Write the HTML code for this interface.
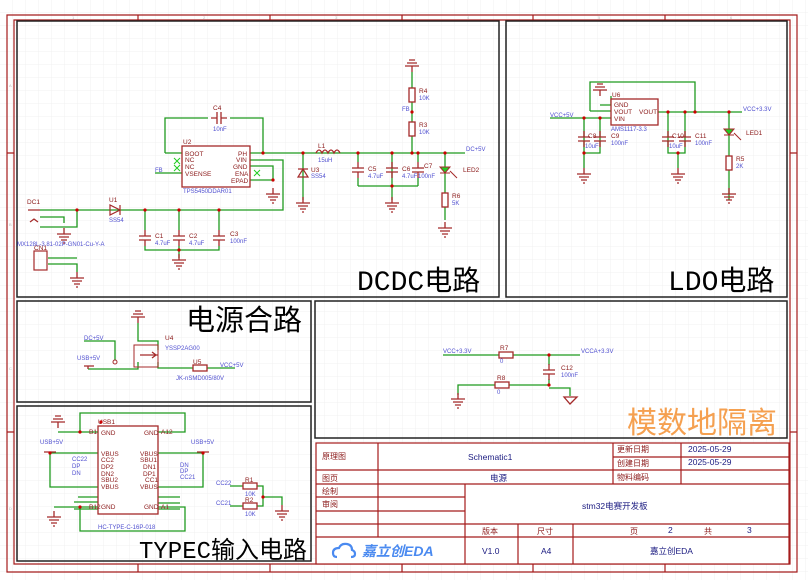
<!DOCTYPE html>
<html><head><meta charset="utf-8"><style>
body{margin:0;background:#fff}
svg{display:block}
text{font-family:"Liberation Sans","Noto Sans CJK SC",sans-serif}
.l{font-size:6px;fill:#5050d0}
.p{font-size:6.5px;fill:#8b1a1a}
.w{stroke:#1f9a1f;stroke-width:1.3;fill:none}
.c{stroke:#a52a2a;stroke-width:1.3;fill:none}
.b{stroke:#222;stroke-width:1.5;fill:none}
.r{stroke:#a51c1c;stroke-width:1.2;fill:none}
.t{font-size:8px;fill:#8b1a1a}
.v{font-size:8.5px;fill:#1a1a80}
.big{font-family:"Liberation Mono","Noto Sans CJK SC",monospace;fill:#000}
</style></head><body>
<svg width="808" height="580" viewBox="0 0 808 580" xmlns="http://www.w3.org/2000/svg">
<defs>
<pattern id="g" width="13" height="13" patternUnits="userSpaceOnUse"><path d="M13 0V13H0" fill="none" stroke="#f0f0f0" stroke-width="1"/></pattern>
<g id="gnd"><path d="M0 0V6M-7 6H7M-5 9H5M-3 12H3M-1 15H1" stroke="#a52a2a" stroke-width="1.3" fill="none"/></g>
<g id="gndu"><path d="M0 0V-6M-7 -6H7M-5 -9H5M-3 -12H3" stroke="#a52a2a" stroke-width="1.3" fill="none"/></g>
<g id="capv"><path d="M-6 -2H6M-6 2H6M0 -2V-8M0 2V8" stroke="#a52a2a" stroke-width="1.3" fill="none"/></g>
<g id="resv"><rect x="-3" y="-7" width="6" height="14" fill="#fff" stroke="#a52a2a" stroke-width="1.3"/></g>
<g id="resh"><rect x="-7" y="-3" width="14" height="6" fill="#fff" stroke="#a52a2a" stroke-width="1.3"/></g>
<g id="led"><path d="M-5 -3H5L0 3Z" fill="#22cc22" stroke="#a52a2a" stroke-width="1"/><path d="M-5 3H5M5 1L10 6M8 4L12 8" stroke="#a52a2a" stroke-width="1" fill="none"/></g>
</defs>
<rect width="808" height="580" fill="url(#g)"/>
<path class="r" d="M7 15H797V572H7Z"/>
<path class="r" d="M14 20H790V564H14Z"/>
<path class="r" d="M138 15V20M270 15V20M402 15V20M533 15V20M665 15V20M7 153H14M790 153H797M7 432H14M790 432H797M138 564V572M270 564V572M402 564V572M533 564V572M665 564V572"/>
<g font-size="4" fill="#bbb"><text x="72" y="19">1</text><text x="203" y="19">2</text><text x="335" y="19">3</text><text x="467" y="19">4</text><text x="598" y="19">5</text><text x="730" y="19">6</text><text x="9" y="87">A</text><text x="9" y="226">B</text><text x="9" y="370">C</text><text x="9" y="510">D</text></g>
<rect class="b" x="17" y="21" width="482" height="276"/>
<rect class="b" x="506" y="21" width="281" height="276"/>
<rect class="b" x="17" y="301" width="294" height="101"/>
<rect class="b" x="17" y="406" width="294" height="155"/>
<rect class="b" x="315" y="301" width="472" height="137"/>

<!-- DCDC -->
<path class="w" d="M165 153V118H208M230 118H263V153M182 153H165M250 153H465M250 160H283V210H40M250 166H273V180M250 180H273M155 173H182M303 153V200M392 153V200M358 186H418M412 72V153M445 153V220M40 227H77V210M48 258H77M48 264H77V272M40 217H64V223M64 217V222"/>
<use href="#capv" x="219" y="118" transform="rotate(90 219 118)"/>
<rect x="182" y="146" width="68" height="41" fill="#fff" stroke="#a52a2a" stroke-width="1.3"/>
<g class="p"><text x="185" y="156">BOOT</text><text x="185" y="162">NC</text><text x="185" y="169">NC</text><text x="185" y="176">VSENSE</text><text x="238" y="156">PH</text><text x="236" y="162">VIN</text><text x="233" y="169">GND</text><text x="235" y="176">ENA</text><text x="231" y="183">EPAD</text></g>
<text class="p" x="183" y="144">U2</text><text class="l" x="183" y="193">TPS5450DDAR01</text>
<text class="p" x="213" y="110">C4</text><text class="l" x="213" y="131">10nF</text>
<text class="l" x="155" y="172">FB</text>
<path d="M174 158l6 6M180 158l-6 6M174 165l6 6M180 165l-6 6M254 170l6 6M260 170l-6 6" stroke="#22cc22" stroke-width="1"/>
<use href="#gnd" x="273" y="188"/>
<path d="M298 177H308L303 169Z M298 169H308" fill="none" stroke="#a52a2a" stroke-width="1.2"/>
<text class="p" x="311" y="172">U3</text><text class="l" x="311" y="178">SS54</text>
<use href="#gnd" x="303" y="197"/>
<path class="c" d="M316 153q3 -6 6 0q3 -6 6 0q3 -6 6 0q3 -6 6 0"/>
<text class="p" x="318" y="148">L1</text><text class="l" x="318" y="162">15uH</text>
<use href="#capv" x="358" y="170"/><use href="#capv" x="392" y="170"/><use href="#capv" x="418" y="170"/>
<path class="w" d="M358 153V162M358 178V186M418 153V162M418 178V186"/>
<text class="p" x="368" y="171">C5</text><text class="l" x="368" y="178">4.7uF</text>
<text class="p" x="402" y="171">C6</text><text class="l" x="402" y="178">4.7uF</text>
<text class="p" x="424" y="168">C7</text><text class="l" x="418" y="178">100nF</text>
<use href="#gnd" x="392" y="197"/>
<use href="#gndu" x="412" y="72"/>
<use href="#resv" x="412" y="95"/><use href="#resv" x="412" y="129"/>
<text class="p" x="419" y="93">R4</text><text class="l" x="419" y="100">10K</text>
<text class="p" x="419" y="127">R3</text><text class="l" x="419" y="134">10K</text>
<text class="l" x="402" y="111">FB</text>
<text class="l" x="466" y="151">DC+5V</text>
<use href="#led" x="445" y="170"/><text class="p" x="463" y="172">LED2</text>
<use href="#resv" x="445" y="200"/><text class="p" x="452" y="198">R6</text><text class="l" x="452" y="205">5K</text>
<use href="#gnd" x="445" y="222"/>
<path d="M110 205V215L120 210Z M120 205V215" fill="none" stroke="#a52a2a" stroke-width="1.2"/>
<text class="p" x="109" y="202">U1</text><text class="l" x="109" y="222">SS54</text>
<use href="#capv" x="145" y="238"/><use href="#capv" x="179" y="238"/><use href="#capv" x="219" y="238"/>
<path class="w" d="M145 210V230M145 246V250H219V246M219 210V230M179 210V230M179 246V258"/>
<text class="p" x="155" y="238">C1</text><text class="l" x="155" y="245">4.7uF</text>
<text class="p" x="189" y="238">C2</text><text class="l" x="189" y="245">4.7uF</text>
<text class="p" x="230" y="236">C3</text><text class="l" x="230" y="243">100nF</text>
<use href="#gnd" x="179" y="254"/><use href="#gnd" x="64" y="228"/><use href="#gnd" x="77" y="272"/>
<path class="c" d="M28 210H40M30 222l4 -3l4 3"/><text class="p" x="27" y="204">DC1</text>
<text class="l" x="17" y="246">MX128L-3.81-02P-GN01-Cu-Y-A</text>
<rect x="34" y="251" width="13" height="19" fill="none" stroke="#a52a2a" stroke-width="1.2"/><text class="p" x="34" y="250">CN1</text>
<g fill="#c00"><circle cx="77" cy="210" r="1.6"/><circle cx="145" cy="210" r="1.6"/><circle cx="179" cy="210" r="1.6"/><circle cx="219" cy="210" r="1.6"/><circle cx="263" cy="153" r="1.6"/><circle cx="303" cy="153" r="1.6"/><circle cx="358" cy="153" r="1.6"/><circle cx="392" cy="153" r="1.6"/><circle cx="412" cy="153" r="1.6"/><circle cx="418" cy="153" r="1.6"/><circle cx="445" cy="153" r="1.6"/><circle cx="392" cy="186" r="1.6"/><circle cx="412" cy="112" r="1.6"/><circle cx="273" cy="180" r="1.6"/><circle cx="179" cy="250" r="1.6"/></g>
<text class="big" x="357" y="290" font-size="28">DCDC电路</text>

<!-- LDO -->
<path class="w" d="M590 111V82H695V112M590 111H611M600 105H611V96M550 118H611M658 112H742M584 118V153H600V118M668 112V153H685V112M678 153V168M584 153V168M729 112V200"/>
<use href="#gndu" x="600" y="96"/>
<rect x="611" y="99" width="47" height="26" fill="#fff" stroke="#a52a2a" stroke-width="1.3"/>
<g class="p"><text x="614" y="107">GND</text><text x="614" y="114">VOUT</text><text x="614" y="121">VIN</text><text x="639" y="114">VOUT</text></g>
<text class="p" x="612" y="97">U6</text><text class="l" x="611" y="131">AMS1117-3.3</text>
<use href="#capv" x="584" y="139"/><use href="#capv" x="600" y="139"/><use href="#capv" x="668" y="139"/><use href="#capv" x="685" y="139"/>
<text class="p" x="588" y="138">C8</text><text class="l" x="585" y="148">10uF</text>
<text class="p" x="611" y="138">C9</text><text class="l" x="611" y="145">100nF</text>
<text class="p" x="672" y="138">C10</text><text class="l" x="669" y="148">10uF</text>
<text class="p" x="695" y="138">C11</text><text class="l" x="695" y="145">100nF</text>
<use href="#gnd" x="584" y="168"/><use href="#gnd" x="678" y="168"/>
<use href="#led" x="729" y="132"/><text class="p" x="746" y="135">LED1</text>
<use href="#resv" x="729" y="163"/><text class="p" x="736" y="161">R5</text><text class="l" x="736" y="168">2K</text>
<use href="#gnd" x="729" y="188"/>
<text class="l" x="550" y="117">VCC+5V</text><text class="l" x="743" y="111">VCC+3.3V</text>
<g fill="#c00"><circle cx="584" cy="118" r="1.6"/><circle cx="600" cy="118" r="1.6"/><circle cx="668" cy="112" r="1.6"/><circle cx="685" cy="112" r="1.6"/><circle cx="695" cy="112" r="1.6"/><circle cx="729" cy="112" r="1.6"/><circle cx="584" cy="153" r="1.6"/><circle cx="678" cy="153" r="1.6"/></g>
<text class="big" x="668" y="290" font-size="28">LDO电路</text>

<!-- 电源合路 -->
<text class="big" x="186" y="330" font-size="29">电源合路</text>
<use href="#gndu" x="138" y="323"/>
<path class="w" d="M138 323V341H158V350M84 341H115V362M88 369H138V362M158 362V368H235"/>
<rect x="134" y="345" width="24" height="22" fill="none" stroke="#a52a2a" stroke-width="1"/>
<path class="c" d="M140 355H158M152 352l4 3l-4 3"/>
<circle cx="115" cy="362" r="2" fill="#fff" stroke="#a52a2a"/>
<use href="#resh" x="200" y="368"/>
<text class="p" x="165" y="340">U4</text><text class="l" x="165" y="350">YSSP2AG00</text>
<text class="p" x="193" y="364">U5</text><text class="l" x="176" y="380">JK-nSMD005/80V</text>
<text class="l" x="84" y="340">DC+5V</text><text class="l" x="77" y="360">USB+5V</text><text class="l" x="220" y="367">VCC+5V</text>
<path class="c" d="M84 366H94M88 366V369"/>

<!-- TYPEC -->
<path class="w" d="M58 432H98M80 432V413H185V432H158M50 453V487H98M50 453H98M203 453V487H158M158 453H203M78 497H98M74 502H98M74 509H98M158 497H180M158 503H180M158 509H180M80 507H98M80 507V531H185V507H158M54 507H98M230 486H243M230 506H243M257 486H263V506H257M263 497H282V505"/>
<use href="#gndu" x="58" y="428"/><use href="#gnd" x="54" y="511"/><use href="#gnd" x="282" y="505"/>
<rect x="98" y="426" width="60" height="88" fill="#fff" stroke="#a52a2a" stroke-width="1.3"/>
<g class="p"><text x="101" y="435">GND</text><text x="101" y="456">VBUS</text><text x="101" y="462">CC2</text><text x="101" y="469">DP2</text><text x="101" y="476">DN2</text><text x="101" y="482">SBU2</text><text x="101" y="489">VBUS</text><text x="101" y="509">GND</text>
<text x="144" y="435">GND</text><text x="140" y="456">VBUS</text><text x="140" y="462">SBU1</text><text x="143" y="469">DN1</text><text x="143" y="476">DP1</text><text x="145" y="482">CC1</text><text x="140" y="489">VBUS</text><text x="144" y="509">GND</text>
<text x="89" y="434">B1</text><text x="161" y="434">A12</text><text x="89" y="509">B12</text><text x="161" y="509">A1</text></g>
<text class="p" x="98" y="424">USB1</text><text class="l" x="98" y="529">HC-TYPE-C-16P-018</text>
<text class="l" x="72" y="461">CC22</text><text class="l" x="72" y="468">DP</text><text class="l" x="72" y="475">DN</text>
<text class="l" x="180" y="467">DN</text><text class="l" x="180" y="473">DP</text><text class="l" x="180" y="479">CC21</text>
<text class="l" x="40" y="444">USB+5V</text><text class="l" x="191" y="444">USB+5V</text>
<path class="c" d="M44 452H56M50 452V453M197 452H209M203 452V453"/>
<use href="#resh" x="250" y="486"/><use href="#resh" x="250" y="506"/>
<text class="p" x="245" y="482">R1</text><text class="l" x="245" y="496">10K</text><text class="p" x="245" y="502">R2</text><text class="l" x="245" y="516">10K</text>
<text class="l" x="216" y="485">CC22</text><text class="l" x="216" y="505">CC21</text>
<g fill="#c00"><circle cx="80" cy="432" r="1.6"/><circle cx="50" cy="453" r="1.6"/><circle cx="203" cy="453" r="1.6"/><circle cx="80" cy="507" r="1.6"/><circle cx="263" cy="497" r="1.6"/><circle cx="101" cy="422" r="1.6"/></g>
<text class="big" x="139" y="558" font-size="24">TYPEC输入电路</text>

<!-- 模数地隔离 -->
<path class="w" d="M443 355H580M549 355V365M549 379V385H458V395M549 388H570V396"/>
<use href="#resh" x="506" y="355"/><use href="#resh" x="502" y="385"/>
<use href="#capv" x="549" y="372"/>
<use href="#gnd" x="458" y="393"/>
<path class="c" d="M564 397H577L570 404Z"/>
<text class="p" x="500" y="350">R7</text><text class="l" x="500" y="363">0</text>
<text class="p" x="497" y="380">R8</text><text class="l" x="497" y="394">0</text>
<text class="p" x="561" y="370">C12</text><text class="l" x="561" y="377">100nF</text>
<text class="l" x="443" y="353">VCC+3.3V</text><text class="l" x="581" y="353">VCCA+3.3V</text>
<g fill="#c00"><circle cx="549" cy="355" r="1.6"/><circle cx="549" cy="385" r="1.6"/></g>
<text x="627" y="433" font-size="30" fill="#f5a050" font-family="'Noto Sans CJK SC',sans-serif">模数地隔离</text>

<!-- title block -->
<rect x="316" y="443" width="473" height="121" fill="#fff" stroke="#a51c1c" stroke-width="1.2"/>
<path class="r" d="M316 470H789M316 484H789M316 497H465M316 511H465M316 524H789M316 537H789M613 457H789M378 443V537M465 484V564M518 524V564M573 524V564M613 443V484M681 443V484"/>
<g class="t"><text x="322" y="459">原理图</text><text x="322" y="481">图页</text><text x="322" y="494">绘制</text><text x="322" y="507">审阅</text>
<text x="617" y="452">更新日期</text><text x="617" y="466">创建日期</text><text x="617" y="480">物料编码</text>
<text x="482" y="534">版本</text><text x="537" y="534">尺寸</text><text x="630" y="534">页</text><text x="704" y="534">共</text></g>
<g class="v" font-size="8"><text x="688" y="452">2025-05-29</text><text x="688" y="465">2025-05-29</text><text x="668" y="533">2</text><text x="747" y="533">3</text><text x="482" y="554">V1.0</text><text x="541" y="554">A4</text></g>
<text class="v" x="468" y="460" font-size="10.5">Schematic1</text>
<text class="v" x="490" y="481" font-size="8">电源</text>
<text class="v" x="582" y="509" font-size="10.5">stm32电赛开发板</text>
<text class="v" x="650" y="554" font-size="10.5">嘉立创EDA</text>
<path d="M337 557q-4 0 -4 -4q0 -5 6 -5q2 -5 8 -4q5 1 5 6q3 1 3 4q0 3 -4 3" fill="none" stroke="#4a8af0" stroke-width="2.2"/>
<text x="362" y="556" font-size="14" font-weight="bold" font-style="italic" fill="#4a8af0">嘉立创EDA</text>
</svg>
</body></html>
